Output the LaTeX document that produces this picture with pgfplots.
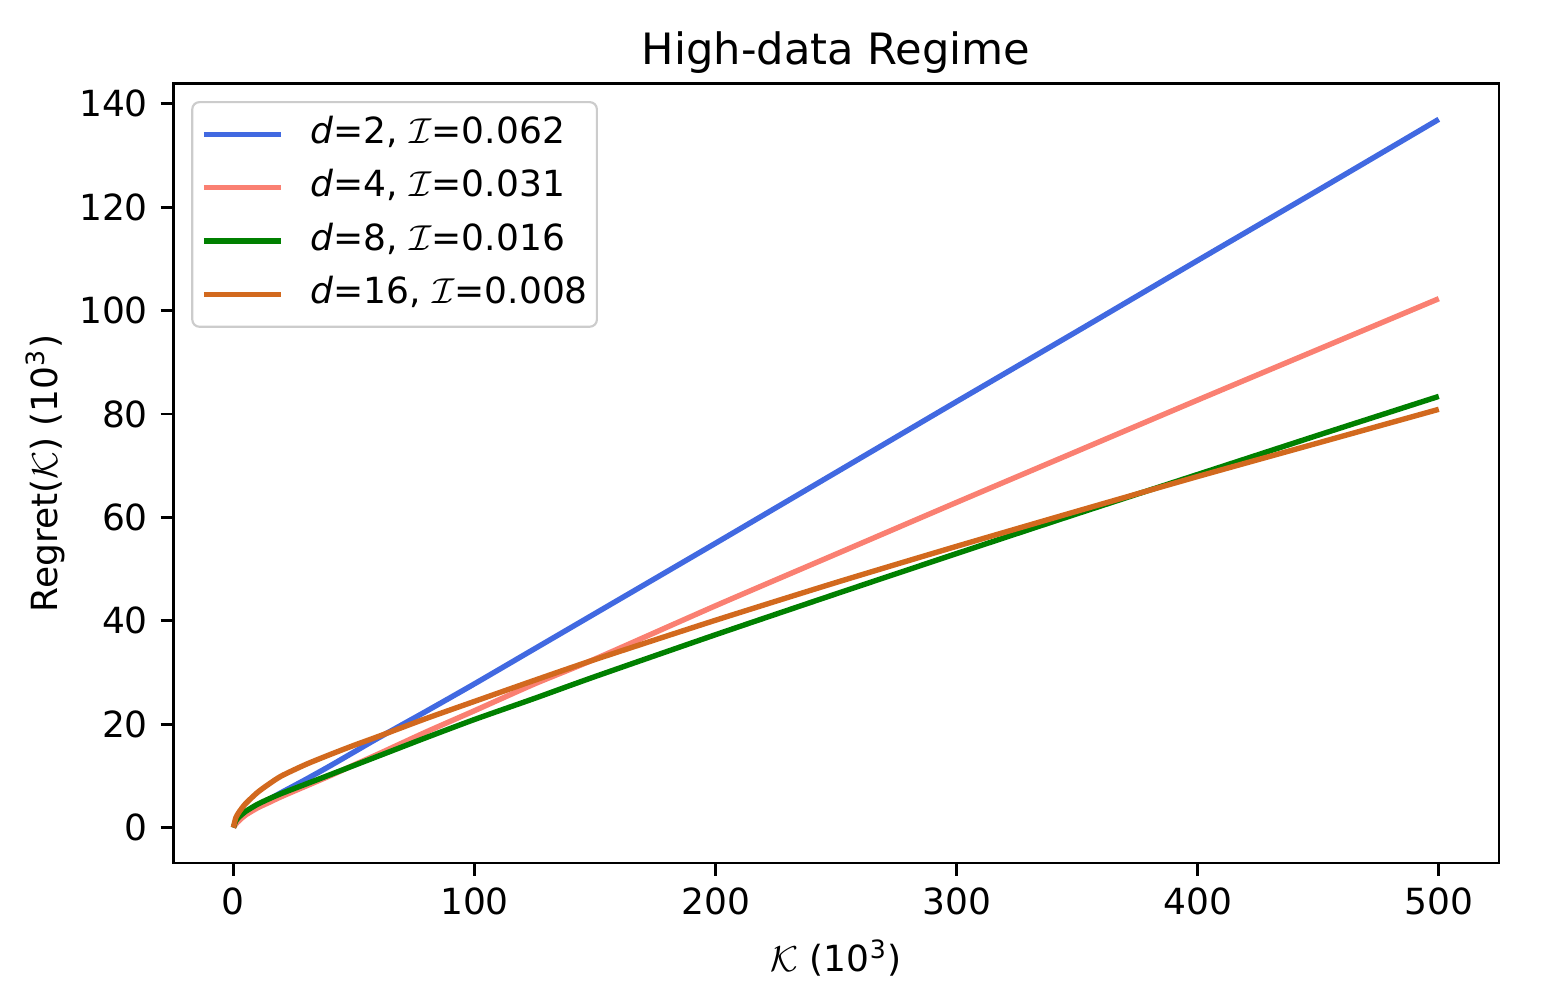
\documentclass[border=0pt]{standalone}
\usepackage{fontspec}
\setmainfont{DejaVu Sans}
\usepackage{pgfplots}
\usepackage{pgfplotstable}
\pgfplotsset{compat=1.18}

\definecolor{royalblue}{RGB}{65,105,225}
\definecolor{salmon}{RGB}{250,128,114}
\definecolor{mplgreen}{RGB}{0,128,0}
\definecolor{chocolate}{RGB}{210,105,30}

% K (10^3) against Regret (10^3)
\pgfplotstableread{
K     d2     d4     d8     d16
0     0.0    0.0    0.0    0.0
1     1.0    0.7    1.3    1.9
2.5   1.7    1.4    2.1    3.1
5     2.7    2.4    3.1    4.6
10    4.2    3.8    4.5    6.8
15    5.5    4.9    5.6    8.5
20    6.8    6.0    6.6    10.0
30    9.3    8.0    8.4    12.2
40    11.9   10.0   10.2   14.1
50    14.6   12.1   12.0   15.9
60    17.3   14.2   13.8   17.6
80    22.5   18.5   17.4   21.1
100   27.8   22.6   20.9   24.4
125   34.6   27.8   25.0   28.5
150   41.4   32.6   29.2   32.5
200   55.0   42.9   37.3   40.1
250   68.7   52.9   45.2   47.4
300   82.4   62.9   53.0   54.4
350   96.0   72.8   60.7   61.2
400   109.7  82.7   68.3   67.9
450   123.3  92.5   75.9   74.4
500   137.0  102.3  83.4   80.9
}\regret

\begin{document}
\begin{tikzpicture}
\useasboundingbox (-48.1pt,-36.7pt) rectangle (384.4pt,239.7pt);
\begin{axis}[
    scale only axis,
    width=368.3pt, height=216.4pt,
    xmin=-25, xmax=525,
    ymin=-6.85, ymax=143.85,
    xtick={0,100,200,300,400,500},
    ytick={0,20,40,60,80,100,120,140},
    tick align=outside,
    xtick pos=lower, ytick pos=left,
    major tick length=3.5pt,
    every tick/.style={black, line width=0.8pt},
    axis line style={line width=0.8pt},
    tick label style={font=\fontsize{10}{12}\selectfont},
    /pgf/number format/assume math mode=true,
    title={High-data Regime},
    title style={font=\fontsize{12}{14}\selectfont, at={(axis description cs:0.5,1.046)}, anchor=center, yshift=-7.2pt},
    xlabel={\(\mathcal{K}\) (10\textsuperscript{3})},
    ylabel={Regret(\(\mathcal{K}\)) (10\textsuperscript{3})},
    label style={font=\fontsize{10}{12}\selectfont},
    xlabel style={at={(axis description cs:0.5,-0.122)}, anchor=center},
    ylabel style={at={(axis description cs:-0.0966,0.5)}, anchor=center},
    legend style={
        at={(axis description cs:0.0136,0.978)}, anchor=north west,
        draw=black!20, line width=0.6pt, rounded corners=2pt,
        fill=white, fill opacity=0.8, text opacity=1,
        font=\fontsize{10}{12}\selectfont,
        inner xsep=2.5pt, inner ysep=4pt, row sep=4.8pt, column sep=7.5pt,
        nodes={inner sep=0pt, text height=7.5pt, text depth=2.5pt},
        cells={anchor=west},
    },
    legend image code/.code={\draw[#1, line width=1.5pt] (0pt,0pt) -- (21.4pt,0pt);},
    every axis plot/.append style={line width=1.5pt, line join=round, smooth, tension=0.4},
]
\addplot[royalblue] table[x=K, y=d2] {\regret};
\addplot[salmon] table[x=K, y=d4] {\regret};
\addplot[mplgreen] table[x=K, y=d8] {\regret};
\addplot[chocolate] table[x=K, y=d16] {\regret};
\legend{{{\itshape d}=2, \(\mathcal{I}\)=0.062},
        {{\itshape d}=4, \(\mathcal{I}\)=0.031},
        {{\itshape d}=8, \(\mathcal{I}\)=0.016},
        {{\itshape d}=16, \(\mathcal{I}\)=0.008}}
\end{axis}
\end{tikzpicture}
\end{document}
